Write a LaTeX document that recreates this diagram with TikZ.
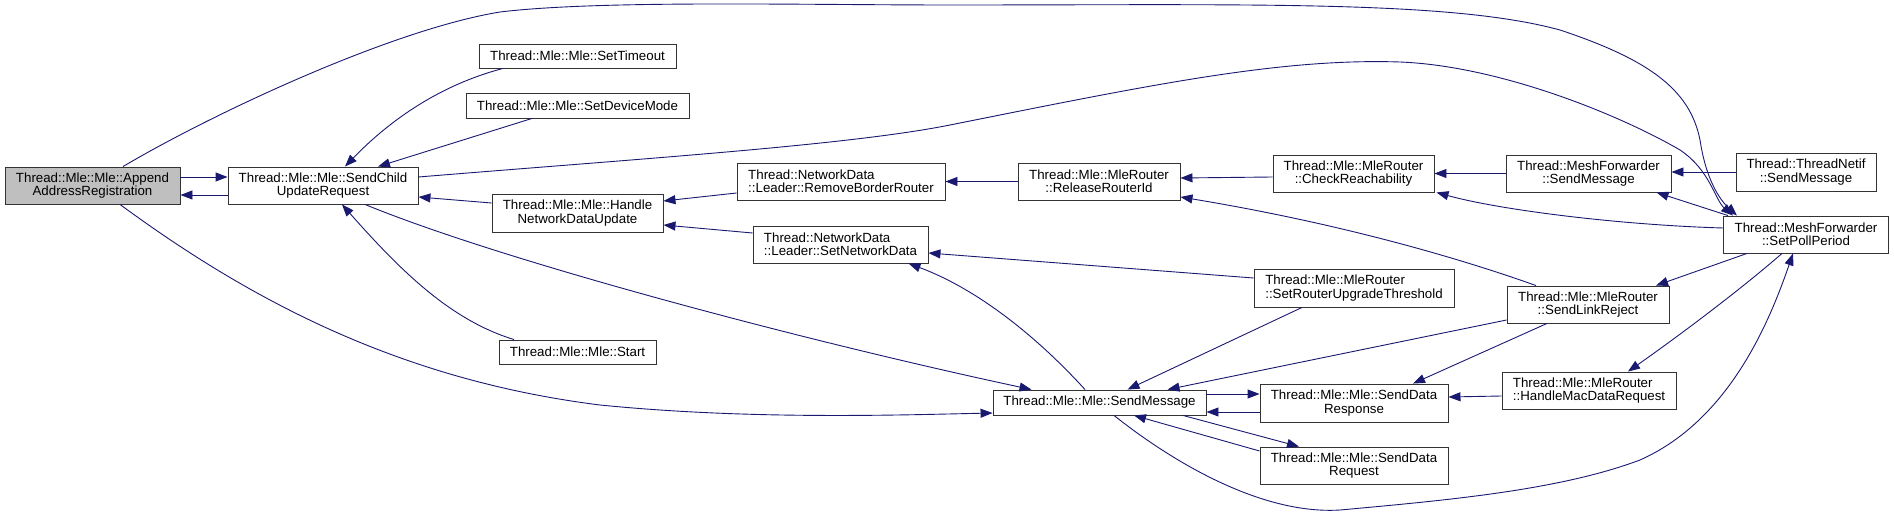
\documentclass[tikz,border=0pt]{standalone}
\usepackage{fontspec}
\setmainfont{Liberation Sans}
\usetikzlibrary{arrows.meta}
\definecolor{edgeblue}{HTML}{191970}
\definecolor{selgray}{HTML}{BFBFBF}

\begin{document}
\begin{tikzpicture}[x=1pt, y=-1pt,
  fn/.style 2 args={draw=black!80, line width=0.9pt, fill=white, inner sep=0pt,
    minimum width=#1, minimum height=#2, align=center,
    font=\fontsize{13.3}{13.3}\selectfont},
  call/.style={draw=edgeblue, line width=0.9pt, -{Triangle[length=12pt,width=9pt]}}]
  \useasboundingbox (0,0) rectangle (1894,518);

  \node[fn={175pt}{37pt}, fill=selgray] (append) at (92.5,185.5) {Thread::Mle::Mle::Append\\AddressRegistration};
  \node[fn={190pt}{37pt}] (childupd) at (323,185.5) {Thread::Mle::Mle::SendChild\\UpdateRequest};
  \node[fn={197pt}{24pt}] (settimeout) at (577.5,56) {Thread::Mle::Mle::SetTimeout};
  \node[fn={223pt}{25pt}] (setdevmode) at (577.5,105.5) {Thread::Mle::Mle::SetDeviceMode};
  \node[fn={171pt}{38pt}] (netdataupd) at (577.5,213) {Thread::Mle::Mle::Handle\\NetworkDataUpdate};
  \node[fn={157pt}{24pt}] (start) at (577.5,352) {Thread::Mle::Mle::Start};
  \node[fn={208pt}{37pt}, align=left] (removebr) at (841,181.5) {Thread::NetworkData\\::Leader::RemoveBorderRouter};
  \node[fn={175pt}{37pt}, align=left] (setnetdata) at (840.5,244.5) {Thread::NetworkData\\::Leader::SetNetworkData};
  \node[fn={162pt}{37pt}] (releaseid) at (1099,181.5) {Thread::Mle::MleRouter\\::ReleaseRouterId};
  \node[fn={213pt}{25pt}] (mlesend) at (1099.5,402.5) {Thread::Mle::Mle::SendMessage};
  \node[fn={161pt}{37pt}] (checkreach) at (1353.5,173.5) {Thread::Mle::MleRouter\\::CheckReachability};
  \node[fn={200pt}{38pt}, align=left] (upgradethr) at (1354,288) {Thread::Mle::MleRouter\\::SetRouterUpgradeThreshold};
  \node[fn={188pt}{38pt}] (dataresp) at (1354,403) {Thread::Mle::Mle::SendData\\Response};
  \node[fn={188pt}{37pt}] (datareq) at (1354,465.5) {Thread::Mle::Mle::SendData\\Request};
  \node[fn={165pt}{37pt}] (meshsend) at (1588.5,173.5) {Thread::MeshForwarder\\::SendMessage};
  \node[fn={162pt}{37pt}] (linkreject) at (1588,304.5) {Thread::Mle::MleRouter\\::SendLinkReject};
  \node[fn={174pt}{37pt}, align=left] (macdatareq) at (1589,390.5) {Thread::Mle::MleRouter\\::HandleMacDataRequest};
  \node[fn={140pt}{38pt}] (netifsend) at (1806,172) {Thread::ThreadNetif\\::SendMessage};
  \node[fn={165pt}{37pt}] (pollperiod) at (1806,234.5) {Thread::MeshForwarder\\::SetPollPeriod};

  \draw[call] ([yshift=8.5pt]append.east) -- ([yshift=8.5pt]childupd.west);
  \draw[call] ([yshift=-9.5pt]childupd.west) -- ([yshift=-9.5pt]append.east);
  \draw[call] ([xshift=30.5pt]append.north) .. controls (210,115) and (390,30) .. (500,12)
    .. controls (600,0) and (800,5) .. (950,5) .. controls (1250,5) and (1450,0) .. (1560,30)
    .. controls (1650,60) and (1690,90) .. (1700,140) .. controls (1706,180) and (1720,200) .. ([xshift=-69pt]pollperiod.north);
  \draw[call] ([yshift=8.5pt]childupd.east) .. controls (650,158) and (850,145) .. (950,125)
    .. controls (1150,85) and (1280,58) .. (1400,62) .. controls (1500,66) and (1620,115) .. (1680,150)
    .. controls (1710,170) and (1715,200) .. ([xshift=-73pt]pollperiod.north);
  \draw[call] ([xshift=-74.5pt]settimeout.south) .. controls (440,85) and (390,120) .. ([xshift=22pt]childupd.north);
  \draw[call] ([xshift=-45.5pt]setdevmode.south) -- ([xshift=55pt]childupd.north);
  \draw[call] ([yshift=10pt]netdataupd.west) -- ([yshift=-11.5pt]childupd.east);
  \draw[call] ([xshift=-63.5pt]start.north) .. controls (450,320) and (400,270) .. ([xshift=19pt]childupd.south);
  \draw[call] ([xshift=42pt]childupd.south) .. controls (500,260) and (800,340) .. ([xshift=-68pt]mlesend.north);
  \draw[call] ([xshift=27.5pt]append.south) .. controls (250,300) and (400,380) .. (600,405)
    .. controls (750,420) and (900,415) .. ([yshift=-10.5pt]mlesend.west);
  \draw[call] ([yshift=-11.5pt]removebr.west) -- ([yshift=12pt]netdataupd.east);
  \draw[call] ([yshift=11.5pt]setnetdata.west) -- ([yshift=-12pt]netdataupd.east);
  \draw[call] (releaseid.west) -- (removebr.east);
  \draw[call] ([yshift=-3.5pt]checkreach.west) -- ([yshift=3.5pt]releaseid.east);
  \draw[call] ([xshift=-52pt]linkreject.north) .. controls (1470,262) and (1350,225) .. ([yshift=-15.5pt]releaseid.east);
  \draw[call] ([yshift=10pt]upgradethr.west) -- ([yshift=-8.5pt]setnetdata.east);
  \draw[call] ([xshift=-14.5pt]mlesend.north) .. controls (1040,340) and (980,290) .. ([xshift=68pt]setnetdata.south);
  \draw[call] (meshsend.west) -- (checkreach.east);
  \draw[call] ([yshift=6.5pt]pollperiod.west) .. controls (1620,225) and (1500,210) .. ([xshift=2pt]checkreach.south east);
  \draw[call] (netifsend.west) -- ([yshift=1.5pt]meshsend.east);
  \draw[call] ([xshift=-78pt]pollperiod.north) -- ([xshift=68pt]meshsend.south);
  \draw[call] ([xshift=-59pt]pollperiod.south) -- ([xshift=68pt]linkreject.north);
  \draw[call] ([xshift=-24pt]pollperiod.south) .. controls (1740,290) and (1680,335) .. ([xshift=39pt]macdatareq.north);
  \draw[call] ([xshift=14.5pt]mlesend.south) .. controls (1170,460) and (1260,515) .. (1340,510)
    .. controls (1450,500) and (1560,490) .. (1640,460) .. controls (1730,420) and (1770,320) .. ([xshift=-13pt]pollperiod.south);
  \draw[call] ([yshift=-15.5pt]linkreject.west) -- ([xshift=68pt]mlesend.north);
  \draw[call] ([xshift=-41pt]linkreject.south) -- ([xshift=59pt]dataresp.north);
  \draw[call] ([xshift=-52pt]upgradethr.south) -- ([xshift=28pt]mlesend.north);
  \draw[call] ([yshift=8.5pt]mlesend.east) -- ([yshift=9pt]dataresp.west);
  \draw[call] ([yshift=-9pt]dataresp.west) -- ([yshift=-9.5pt]mlesend.east);
  \draw[call] ([yshift=-5.5pt]macdatareq.west) -- ([yshift=6pt]dataresp.east);
  \draw[call] ([xshift=83.5pt]mlesend.south) -- ([xshift=-55pt]datareq.north);
  \draw[call] ([yshift=14.5pt]datareq.west) -- ([xshift=34.5pt]mlesend.south);
\end{tikzpicture}
\end{document}
